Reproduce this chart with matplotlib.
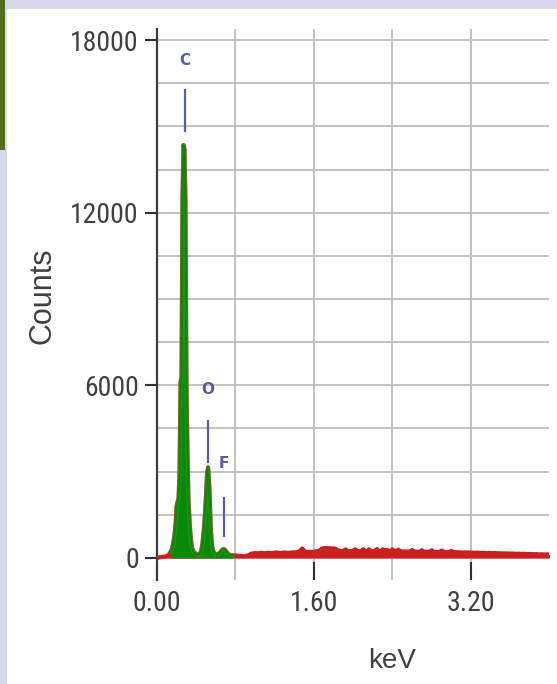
import numpy as np
import matplotlib
matplotlib.use("Agg")
import matplotlib.pyplot as plt
from matplotlib.patches import Rectangle
from matplotlib.ticker import FixedLocator
from matplotlib import font_manager as fm

# ---------------- data ----------------
# low-energy region, 0.01 keV channels starting at 0.00 keV
low_start_kev = 0.00
low_step_kev = 0.01
low_counts = [
    0, 10, 20, 25, 30, 35, 40, 45, 50, 60,
    70, 90, 120, 160, 220, 300, 420, 600, 850, 1200,
    1800, 1950, 2100, 3000, 6100, 6300, 12500, 14350, 14200, 12300,
    6000, 3800, 2100, 1400, 850, 500, 330, 240, 190, 160,
    140, 130, 120, 130, 160, 250, 420, 700, 1100, 1600,
    2200, 2900, 3150, 2700, 1800, 900, 450, 270, 190, 150,
    130, 125, 130, 150, 180, 220, 270, 300, 310, 290,
    250, 200, 160, 130, 110, 100, 95, 90, 90, 90,
]
# high-energy region, 0.02 keV channels starting at 0.80 keV
high_start_kev = 0.80
high_step_kev = 0.02
high_counts = [
    90, 80, 70, 70, 60, 70, 80, 110, 150, 160,
    170, 160, 170, 180, 170, 165, 175, 180, 170, 175,
    185, 190, 180, 175, 185, 190, 185, 175, 185, 195,
    190, 200, 210, 260, 330, 240, 200, 205, 215, 210,
    220, 230, 240, 260, 330, 340, 345, 335, 340, 330,
    335, 320, 270, 250, 240, 250, 300, 240, 235, 240,
    250, 300, 240, 235, 240, 300, 240, 235, 300, 240,
    235, 245, 310, 240, 235, 300, 240, 290, 240, 235,
    300, 240, 235, 290, 230, 225, 230, 225, 220, 225,
    280, 225, 220, 215, 220, 270, 220, 215, 210, 215,
    270, 215, 210, 205, 210, 260, 210, 205, 200, 205,
    250, 205, 200, 195, 200, 195, 190, 195, 190, 185,
    190, 185, 180, 185, 180, 175, 180, 175, 170, 175,
    170, 165, 170, 165, 160, 165, 160, 155, 160, 155,
    150, 155, 150, 145, 150, 145, 140, 145, 140, 135,
    140, 135, 130, 135, 130, 125, 130, 125, 120, 125,
    120,
]
roi_range_kev = (0.14, 0.77)          # green (element ROI) part of spectrum

elements = ["C", "O", "F"]
element_kev = [0.285, 0.515, 0.685]
element_label_counts = [17300, 5850, 3300]
element_line_top = [16250, 4750, 2100]
element_line_bottom = [14850, 3350, 750]

x_ticks = [0.0, 1.6, 3.2]
x_tick_labels = ["0.00", "1.60", "3.20"]
x_grid = [0.8, 2.4]
y_ticks = [0, 6000, 12000, 18000]
y_tick_labels = ["0", "6000", "12000", "18000"]
y_grid = [1500, 3000, 4500, 7500, 9000, 10500, 13500, 15000, 16500]

# pick a narrow font if one is installed
names = {f.name for f in fm.fontManager.ttflist}
narrow = None
for cand in ["Liberation Sans Narrow", "Arial Narrow", "Roboto Condensed",
             "DejaVu Sans Condensed", "Open Sans Condensed"]:
    if cand in names:
        narrow = cand
        break
cond_stretch = any(f.name == "DejaVu Sans" and str(f.stretch) in ("condensed", "semi-condensed")
                   for f in fm.fontManager.ttflist)

# ---------------- figure ----------------
W, H = 557, 684
fig = plt.figure(figsize=(W / 100, H / 100), dpi=100, facecolor="white")

lav = "#d7d7ee"
fig.patches.append(Rectangle((0, 1 - 9 / H), 1, 9 / H, transform=fig.transFigure,
                             facecolor=lav, edgecolor="none", zorder=0))
fig.patches.append(Rectangle((0, 0), 7 / W, 1, transform=fig.transFigure,
                             facecolor=lav, edgecolor="none", zorder=0))
fig.patches.append(Rectangle((0, 1 - 150 / H), 5 / W, 150 / H, transform=fig.transFigure,
                             facecolor="#526d1e", edgecolor="none", zorder=1))

x0, x1 = 157, 549
y_top, y_bot = 28.5, 580
ax = fig.add_axes([x0 / W, 1 - y_bot / H, (x1 - x0) / W, (y_bot - y_top) / H])
ax.set_facecolor("white")

e_low = low_start_kev + low_step_kev * np.arange(len(low_counts))
e_high = high_start_kev + high_step_kev * np.arange(len(high_counts))
energy = np.concatenate([e_low, e_high])
counts = np.concatenate([np.array(low_counts, float), np.array(high_counts, float)])

red = "#cc1f1f"
green = "#078a07"
ax.fill_between(energy, 0, counts, color=red, lw=0, zorder=3)
ax.plot(energy, counts, color=red, lw=3.0, zorder=3, solid_joinstyle="round")

m = (energy >= roi_range_kev[0]) & (energy <= roi_range_kev[1])
ax.fill_between(energy[m], 0, counts[m], color=green, lw=0, zorder=4)
ax.plot(energy[m], counts[m], color="#2aa52a", lw=3.0, zorder=4, alpha=0.55,
        solid_joinstyle="round")
ax.plot(energy[m], counts[m], color=green, lw=1.4, zorder=4)

mark_col = "#5b5ba6"
for name, ek, lc, lt, lb in zip(elements, element_kev, element_label_counts,
                                element_line_top, element_line_bottom):
    ax.plot([ek, ek], [lb, lt], color=mark_col, lw=1.6, zorder=5)
    ax.text(ek, lc, name, color=mark_col, fontsize=11, fontweight="bold",
            ha="center", va="center", family=["DejaVu Sans"], zorder=5)

ax.set_xlim(0, 3.995)
ax.set_ylim(-765, 18400)

ax.set_xticks(x_ticks)
ax.set_xticklabels(x_tick_labels)
ax.set_yticks(y_ticks)
ax.set_yticklabels(y_tick_labels)
ax.xaxis.set_minor_locator(FixedLocator(x_grid))
ax.yaxis.set_minor_locator(FixedLocator(y_grid))

for s in ["top", "right", "bottom"]:
    ax.spines[s].set_visible(False)
ax.spines["left"].set_color("#3c3c3c")
ax.spines["left"].set_linewidth(1.6)

ax.grid(True, which="both", color="#bdbdbd", lw=1.3)
ax.set_axisbelow(True)

tick_col = "#404040"
ax.tick_params(axis="x", which="major", direction="in", length=13, width=1.5,
               color="#303030", pad=7, labelcolor=tick_col)
ax.tick_params(axis="y", which="major", direction="out", length=9, width=1.5,
               color="#303030", pad=4, labelcolor=tick_col)
ax.tick_params(which="minor", length=0)
for lbl in ax.get_xticklabels() + ax.get_yticklabels():
    if narrow:
        lbl.set_family([narrow, "DejaVu Sans"])
        lbl.set_fontsize(20)
    elif cond_stretch:
        lbl.set_family(["DejaVu Sans"])
        lbl.set_stretch("condensed")
        lbl.set_fontsize(17)
    else:
        lbl.set_family(["Liberation Sans", "DejaVu Sans"])
        lbl.set_fontsize(18)

fig.text(43 / W, 1 - 296 / H, "Counts", rotation=90, ha="center", va="center",
         fontsize=22, color=tick_col, family=["Liberation Sans", "DejaVu Sans"])
fig.text(392 / W, 1 - 661 / H, "keV", ha="center", va="center",
         fontsize=20, color=tick_col, family=["Liberation Sans", "DejaVu Sans"])

fig.savefig("out.png", dpi=100, facecolor=fig.get_facecolor())
